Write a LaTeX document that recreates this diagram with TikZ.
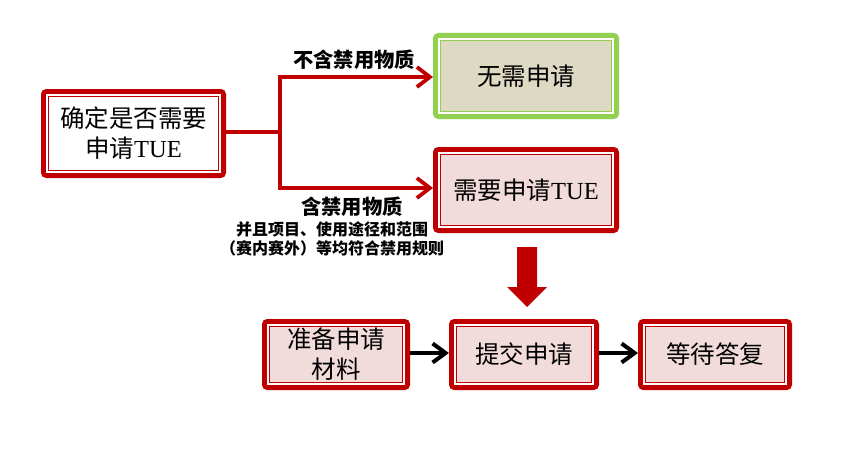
\documentclass[tikz,border=0pt]{standalone}
\usepackage{fontspec}
\setmainfont{Liberation Serif}
\newfontfamily\cjk{Noto Sans CJK SC}
\newfontfamily\lat{Liberation Serif}
\usetikzlibrary{arrows.meta}
\definecolor{dred}{HTML}{C00000}
\definecolor{pinkf}{HTML}{F2DCDB}
\definecolor{lgreen}{HTML}{92D050}
\definecolor{tanf}{HTML}{DDD9C3}
\tikzset{
  boxbase/.style={line width=5pt, rounded corners=3pt, inner sep=0pt, align=center,
    font=\cjk\fontsize{24.5}{30}\selectfont},
  redbox/.style={boxbase, draw=dred, fill=pinkf},
  greenbox/.style={boxbase, draw=lgreen, fill=tanf},
  branch/.style={dred, line width=3.8pt, -{Straight Barb[length=13pt,width=20pt]}},
  plainline/.style={dred, line width=3.5pt},
  blackarrow/.style={black, line width=4pt, -{Straight Barb[length=13pt,width=19pt]}},
  lbl/.style={font=\cjk\bfseries\fontsize{20.3}{24}\selectfont, inner sep=0pt},
  sublbl/.style={font=\cjk\bfseries\fontsize{16}{18.5}\selectfont, inner sep=0pt, align=center},
}
\newcommand{\inlines}[2]{%
  \draw[white, line width=1.8pt] ([shift={(5.9pt,-5.9pt)}]#1.north west) rectangle ([shift={(-5.9pt,5.9pt)}]#1.south east);
  \draw[#2, line width=1.1pt] ([shift={(7.5pt,-7.5pt)}]#1.north west) rectangle ([shift={(-7.5pt,7.5pt)}]#1.south east);
}
\begin{document}
\begin{tikzpicture}[x=1pt,y=-1pt]
\useasboundingbox (0,0) rectangle (864,452);
% top-left decision box
\node[redbox, fill=white, minimum width=180pt, minimum height=84pt] (A) at (133.5,133.5)
  {\cjk 确定是否需要\\申请{\lat TUE}};
\inlines{A}{dred}
\node[greenbox, minimum width=181pt, minimum height=81pt] (B) at (526,76) {\cjk 无需申请};
\inlines{B}{lgreen}
\node[redbox, minimum width=181pt, minimum height=81pt] (C) at (526,190) {\cjk 需要申请{\lat TUE}};
\inlines{C}{dred}
% bottom boxes
\node[redbox, minimum width=143pt, minimum height=66pt] (D) at (336,354.5) {\cjk 准备申请\\材料};
\inlines{D}{dred}
\node[redbox, minimum width=145pt, minimum height=66pt] (E) at (524,354.5) {\cjk 提交申请};
\inlines{E}{dred}
\node[redbox, minimum width=149pt, minimum height=66pt] (F) at (715,354.5) {\cjk 等待答复};
\inlines{F}{dred}
% branch connector
\coordinate (J) at (280,132);
\coordinate (JT) at (280,77);
\coordinate (JB) at (280,188);
\draw[plainline] (A.east |- J) -- (J);
\draw[plainline, line cap=rect] (JT) -- (JB);
\draw[branch] (JT) -- (JT -| B.west);
\draw[branch] (JB) -- (JB -| C.west);
% labels
\node[lbl] (L1) at (354,60) {不含禁用物质};
\node[lbl] (L2) at (352,207) {含禁用物质};
\node[sublbl] (L3) at (332,239) {并且项目、使用途径和范围\\（赛内赛外）等均符合禁用规则};
% big down arrow
\fill[dred] (517,247) -- (537,247) -- (537,287) -- (547,287) -- (527,307) -- (507,287) -- (517,287) -- cycle;
% bottom arrows
\draw[blackarrow] (D.east |- 0,353) -- (E.west |- 0,353);
\draw[blackarrow] (E.east |- 0,353) -- (F.west |- 0,353);
\end{tikzpicture}
\end{document}
